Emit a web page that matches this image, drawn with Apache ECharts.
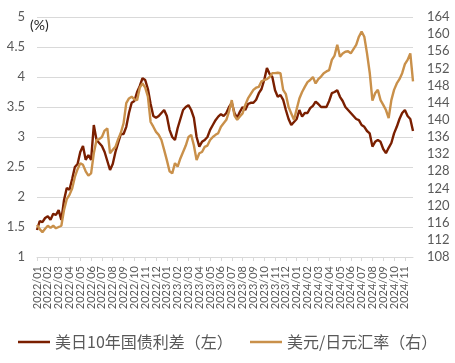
<!DOCTYPE html>
<html>
<head>
<meta charset="utf-8">
<script src="https://cdn.jsdelivr.net/npm/echarts@6/dist/echarts.min.js"></script>
<style>
html,body{margin:0;padding:0;background:#fff;}
#chart{width:455px;height:363px;}
</style>
</head>
<body>
<div id="chart"></div>
<script>
const months = ['2022/01','2022/02','2022/03','2022/04','2022/05','2022/06','2022/07','2022/08','2022/09','2022/10','2022/11','2022/12',
  '2023/01','2023/02','2023/03','2023/04','2023/05','2023/06','2023/07','2023/08','2023/09','2023/10','2023/11','2023/12',
  '2024/01','2024/02','2024/03','2024/04','2024/05','2024/06','2024/07','2024/08','2024/09','2024/10','2024/11'];
const weeksPerMonth = 4;

// 美日10年国债利差（左）, %, four readings per month
const spread = [
  1.45,1.60,1.58,1.65, 1.68,1.62,1.72,1.70, 1.78,1.62,1.95,2.15, 2.12,2.30,2.50,2.55,
  2.75,2.85,2.62,2.70, 2.62,3.20,2.95,2.90, 2.85,2.75,2.60,2.45, 2.55,2.75,2.90,3.05,
  3.05,3.17,3.40,3.57, 3.60,3.75,3.85,3.98, 3.95,3.80,3.55,3.35, 3.32,3.35,3.40,3.45,
  3.35,3.12,3.00,2.95, 3.15,3.30,3.45,3.50, 3.53,3.45,3.32,3.00, 2.84,2.92,2.95,3.00,
  3.12,3.20,3.28,3.34, 3.38,3.35,3.40,3.50, 3.57,3.40,3.32,3.42, 3.50,3.45,3.55,3.57,
  3.57,3.62,3.73,3.80, 3.95,4.15,4.05,4.00, 3.78,3.67,3.70,3.62, 3.45,3.30,3.20,3.25,
  3.30,3.45,3.34,3.40, 3.40,3.48,3.52,3.59, 3.55,3.50,3.50,3.50, 3.60,3.73,3.75,3.78,
  3.67,3.60,3.50,3.45, 3.40,3.35,3.30,3.28, 3.20,3.17,3.10,3.06, 2.84,2.92,2.95,2.92,
  2.80,2.73,2.82,2.90, 3.06,3.17,3.30,3.40, 3.45,3.35,3.30,3.10
];

// 美元/日元汇率（右）, four readings per month
const usdjpy = [
  115.5,114.5,113.8,114.6, 115.3,114.8,115.3,114.7, 115.0,115.3,119.0,121.5, 122.5,124.0,126.7,128.5,
  129.9,129.5,128.0,127.0, 127.5,132.2,135.3,135.5, 136.0,137.5,138.0,132.2, 133.0,133.7,135.5,137.0,
  139.2,143.9,145.0,145.4, 144.8,144.6,147.5,148.5, 147.5,145.4,139.5,138.4, 137.2,136.5,135.3,133.0,
  130.6,128.0,127.5,129.9, 129.1,131.0,132.5,134.0, 136.0,136.5,134.0,130.6, 132.2,132.5,133.7,134.0,
  135.3,136.0,136.5,136.9, 138.4,139.2,140.0,142.0, 144.6,141.0,140.0,140.8, 141.5,143.5,145.0,146.0,
  147.0,147.5,147.7,149.0, 149.3,149.5,150.0,150.9, 150.9,151.0,150.9,147.0, 146.0,143.0,141.5,140.0,
  142.5,145.0,146.5,147.7, 148.8,149.3,150.0,148.5, 149.5,150.1,150.9,151.3, 151.6,154.0,155.0,157.5,
  154.7,155.5,155.9,156.0, 155.5,156.5,157.5,159.4, 160.6,159.4,155.5,151.0, 144.5,146.2,147.0,144.6,
  143.5,142.3,140.4,144.6, 147.0,148.5,149.5,150.9, 153.0,154.0,155.5,149.0
];

const seriesNames = ['美日10年国债利差（左）', '美元/日元汇率（右）'];

const categories = [];
months.forEach(m => { for (let w = 0; w < weeksPerMonth; w++) categories.push(m + '#' + w); });

const textColor = '#595959';
const gridColor = '#d9d9d9';
const darkColor = '#7a1f00';
const tanColor = '#c9904a';
const numFont = 'Lato, "Liberation Sans", sans-serif';
const cjkFont = '"Noto Sans CJK SC", "Noto Sans", sans-serif';

const legendBase = {
  top: 329, itemWidth: 32, itemHeight: 2.5, icon: 'rect',
  textStyle: {color: textColor, fontSize: 16, fontFamily: cjkFont}
};

const chart = echarts.init(document.getElementById('chart'), null, {renderer: 'canvas'});
chart.setOption({
  animation: false,
  grid: {left: 37, right: 42, top: 17, bottom: 106, containLabel: false},
  graphic: [{
    type: 'text', left: 30, top: 18,
    style: {text: '(%)', font: '14px ' + numFont, fill: '#262626'}
  }],
  legend: [
    Object.assign({left: 13, data: [seriesNames[0]]}, legendBase),
    Object.assign({left: 245, data: [seriesNames[1]]}, legendBase)
  ],
  xAxis: {
    type: 'category', data: categories, boundaryGap: false,
    axisLine: {lineStyle: {color: gridColor}},
    axisTick: {interval: weeksPerMonth - 1, length: 4, lineStyle: {color: gridColor}},
    axisLabel: {
      interval: weeksPerMonth - 1, rotate: 90, margin: 9,
      color: textColor, fontSize: 11, fontFamily: numFont,
      formatter: v => v.split('#')[0]
    },
    splitLine: {show: false}
  },
  yAxis: [{
    type: 'value', min: 1, max: 5, interval: 0.5, position: 'left',
    axisLine: {show: false}, axisTick: {show: false},
    axisLabel: {color: textColor, fontSize: 13, fontFamily: numFont, margin: 12},
    splitLine: {lineStyle: {color: gridColor, width: 1}}
  }, {
    type: 'value', min: 108, max: 164, interval: 4, position: 'right',
    axisLine: {show: false}, axisTick: {show: false},
    axisLabel: {color: textColor, fontSize: 13, fontFamily: numFont, margin: 14},
    splitLine: {show: false}
  }],
  series: [{
    name: seriesNames[0], type: 'line', yAxisIndex: 0, data: spread,
    symbol: 'none', lineStyle: {color: darkColor, width: 2.4}, itemStyle: {color: darkColor}
  }, {
    name: seriesNames[1], type: 'line', yAxisIndex: 1, data: usdjpy,
    symbol: 'none', lineStyle: {color: tanColor, width: 2.4}, itemStyle: {color: tanColor}
  }]
});
</script>
</body>
</html>
